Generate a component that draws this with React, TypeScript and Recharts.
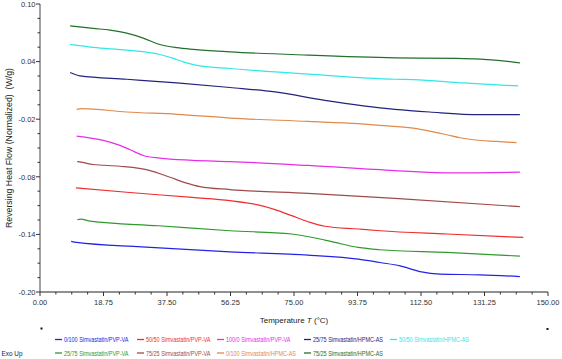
import { LineChart, Line, XAxis, YAxis, Label } from "recharts";

// tick labels
const xMajorTicks = [0, 18.75, 37.5, 56.25, 75, 93.75, 112.5, 131.25, 150];
const yMajorTicks = [-0.2, -0.14, -0.08, -0.02, 0.04, 0.1];

// [temperature °C, reversing heat flow W/g]
const pvp0100 = [[9.2, -0.1473], [10.8, -0.1484], [30, -0.1530], [56.1, -0.1581], [79.2, -0.1616], [94.0, -0.1657], [100.4, -0.1693], [106.3, -0.1727], [112.2, -0.1787], [118.1, -0.1814], [129.9, -0.1821], [141.7, -0.1839]];
const pvp5050 = [[10.6, -0.0915], [25.6, -0.0961], [45, -0.1015], [56.1, -0.1048], [64.4, -0.1093], [69.4, -0.1142], [74.3, -0.1205], [79.2, -0.1268], [84.1, -0.1315], [94.0, -0.1344], [100.4, -0.1362], [120.1, -0.1396], [142.7, -0.1432]];
const pvp1000 = [[10.8, -0.0376], [18.7, -0.0421], [23.6, -0.0473], [26.6, -0.0518], [30.5, -0.0578], [35.4, -0.0606], [45, -0.0628], [56.1, -0.0641], [79.2, -0.0682], [104.8, -0.0735], [122, -0.0759], [141.7, -0.0752]];
const hpmc2575 = [[8.9, 0.0286], [11.8, 0.0251], [25.6, 0.0216], [40.4, 0.0178], [56.1, 0.0130], [69.4, 0.0084], [84.1, -0.0003], [104.8, -0.0097], [115.1, -0.0125], [129.9, -0.0153], [141.7, -0.0153]];
const hpmc5050 = [[8.9, 0.0579], [15.7, 0.0548], [25.6, 0.0519], [35.4, 0.0474], [39.4, 0.0433], [42.3, 0.0397], [47.2, 0.0355], [56.1, 0.0328], [79.2, 0.0269], [104.8, 0.0216], [110.2, 0.0213], [125, 0.0178], [141.2, 0.0146]];
const pvp2575 = [[11.0, -0.1247], [12.0, -0.1240], [14.8, -0.1262], [35, -0.1310], [56.1, -0.1362], [74.3, -0.1396], [84.1, -0.1459], [89.1, -0.1500], [94.0, -0.1536], [100.4, -0.1560], [120.1, -0.1588], [141.7, -0.1626]];
const pvp7525 = [[11.0, -0.0641], [12.5, -0.0650], [15.7, -0.0672], [23.6, -0.0690], [32.5, -0.0735], [38.4, -0.0805], [42.8, -0.0860], [47.2, -0.0902], [56.1, -0.0933], [79.2, -0.0972], [104.8, -0.1024], [141.7, -0.1111]];
const hpmc0100 = [[10.8, -0.0097], [12.3, -0.0090], [25.6, -0.0125], [40.4, -0.0149], [56.1, -0.0188], [79.2, -0.0223], [94.0, -0.0247], [100.4, -0.0264], [110.2, -0.0293], [115.1, -0.0324], [120.1, -0.0362], [124, -0.0393], [127.9, -0.0414], [134.8, -0.0432], [140.7, -0.0445]];
const hpmc7525 = [[8.9, 0.0773], [15.7, 0.0746], [20.7, 0.0728], [25.6, 0.0697], [30.5, 0.0645], [35.4, 0.0578], [40.4, 0.0545], [45.3, 0.0527], [56.1, 0.0502], [79.2, 0.0467], [104.8, 0.0439], [123, 0.0433], [130, 0.0425], [136, 0.0410], [141.7, 0.0387]];

const series = [
    { name: "0/100 Simvastatin/PVP-VA", color: "#2323e6", points: pvp0100 },
    { name: "50/50 Simvastatin/PVP-VA", color: "#ee2e2e", points: pvp5050 },
    { name: "100/0 Simvastatin/PVP-VA", color: "#e62ee6", points: pvp1000 },
    { name: "25/75 Simvastatin/HPMC-AS", color: "#23237e", points: hpmc2575 },
    { name: "50/50 Simvastatin/HPMC-AS", color: "#33e6e6", points: hpmc5050 },
    { name: "25/75 Simvastatin/PVP-VA", color: "#2e9a2e", points: pvp2575 },
    { name: "75/25 Simvastatin/PVP-VA", color: "#a04a4a", points: pvp7525 },
    { name: "0/100 Simvastatin/HPMC-AS", color: "#e08a4c", points: hpmc0100 },
    { name: "75/25 Simvastatin/HPMC-AS", color: "#22702a", points: hpmc7525 },
];

const FONT = "'Liberation Sans', Arial, sans-serif";

function withMinor(majors: number[], n: number) {
    const out: number[] = [];
    for (let i = 0; i < majors.length - 1; i++) {
        const step = (majors[i + 1] - majors[i]) / (n + 1);
        for (let k = 0; k <= n; k++) out.push(+(majors[i] + step * k).toFixed(6));
    }
    out.push(majors[majors.length - 1]);
    return out;
}

const isMajor = (list: number[], v: number) => list.some((t) => Math.abs(t - v) < 1e-6);

function XTick(props: any) {
    const { x, y, payload } = props;
    const major = isMajor(xMajorTicks, payload.value);
    return (
        <g>
            <line x1={x} y1={y} x2={x} y2={y + (major ? 4 : 2.5)} stroke="#333" />
            {major && (
                <text x={x} y={y + 13} textAnchor="middle" fontSize={7.5} fontFamily={FONT} fill="#333">
                    {payload.value.toFixed(2)}
                </text>
            )}
        </g>
    );
}

function YTick(props: any) {
    const { x, y, payload } = props;
    const major = isMajor(yMajorTicks, payload.value);
    return (
        <g>
            <line x1={x} y1={y} x2={x - (major ? 4 : 2.5)} y2={y} stroke="#333" />
            {major && (
                <text x={x - 4.5} y={y + 2.8} textAnchor="end" fontSize={7.5} fontFamily={FONT} fill="#333">
                    {payload.value.toFixed(2)}
                </text>
            )}
        </g>
    );
}

const legendCols = [55, 137, 217, 304, 390];
const legendRows = [339.5, 353];

export default function App() {
    return (
        <div style={{ position: "absolute", left: 0, top: 0, width: 562, height: 359, background: "#fff" }}>
            <LineChart width={562} height={359} margin={{ top: 4, right: 14, bottom: 0, left: 0 }}>
                <XAxis
                    type="number"
                    dataKey="x"
                    domain={[0, 150]}
                    ticks={withMinor(xMajorTicks, 3)}
                    interval={0}
                    height={67}
                    tickSize={0}
                    tickMargin={0}
                    tickLine={false}
                    tick={<XTick />}
                    axisLine={{ stroke: "#222" }}
                    allowDataOverflow
                >
                    <Label
                        content={(p: any) => (
                            <text x={p.viewBox.x + p.viewBox.width / 2} y={p.viewBox.y + 30.5} textAnchor="middle" fontSize={8} fontFamily={FONT} fill="#222">
                                Temperature <tspan fontStyle="italic">T</tspan> (°C)
                            </text>
                        )}
                    />
                </XAxis>
                <XAxis xAxisId="top" orientation="top" type="number" domain={[0, 150]} height={0} tick={false} tickLine={false} axisLine={{ stroke: "#a8a8a8", strokeWidth: 2 }} />
                <YAxis
                    type="number"
                    domain={[-0.2, 0.1]}
                    ticks={withMinor(yMajorTicks, 3)}
                    interval={0}
                    width={40}
                    tickSize={0}
                    tickMargin={0}
                    tickLine={false}
                    tick={<YTick />}
                    axisLine={{ stroke: "#444" }}
                    allowDataOverflow
                >
                    <Label
                        content={(p: any) => {
                            const cx = p.viewBox.x + 8.5;
                            const cy = p.viewBox.y + p.viewBox.height / 2;
                            return (
                                <text x={cx} y={cy} transform={`rotate(-90 ${cx} ${cy})`} textAnchor="middle" dominantBaseline="central" fontSize={8.5} fontFamily={FONT} fill="#222" textLength={160} lengthAdjust="spacingAndGlyphs" style={{ whiteSpace: "pre" }}>
                                    Reversing Heat Flow (Normalized)  (W/g)
                                </text>
                            );
                        }}
                    />
                </YAxis>
                <YAxis yAxisId="right" orientation="right" type="number" domain={[-0.2, 0.1]} width={0} tick={false} tickLine={false} axisLine={{ stroke: "#a8a8a8", strokeWidth: 2 }} />
                {series.map((s) => (
                    <Line
                        key={s.name}
                        name={s.name}
                        data={s.points.map(([x, y]) => ({ x, y }))}
                        dataKey="y"
                        type="monotone"
                        stroke={s.color}
                        strokeWidth={1.2}
                        dot={false}
                        activeDot={false}
                        isAnimationActive={false}
                    />
                ))}
            </LineChart>
            <svg width={562} height={359} style={{ position: "absolute", left: 0, top: 0, pointerEvents: "none" }}>
                <rect x={40.5} y={327.5} width={2} height={2} fill="#111" />
                <rect x={546.5} y={328} width={2} height={2} fill="#111" />
                <g transform="translate(1.5 356) scale(0.8 1)">
                    <text x={0} y={0} fontSize={8} fontFamily={FONT} fill="#222">
                        Exo Up
                    </text>
                </g>
                {series.map((s, i) => {
                    const row = i < 5 ? 0 : 1;
                    const col = i < 5 ? i : i - 5;
                    const x = legendCols[col];
                    const y = legendRows[row];
                    return (
                        <g key={s.name}>
                            <line x1={x} y1={y} x2={x + 7} y2={y} stroke={s.color} strokeWidth={1.3} />
                            <g transform={`translate(${x + 9} ${y + 2.7}) scale(0.7 1)`}>
                                <text x={0} y={0} fontSize={7.8} fontFamily={FONT} fill={s.color}>
                                    {s.name}
                                </text>
                            </g>
                        </g>
                    );
                })}
            </svg>
        </div>
    );
}
